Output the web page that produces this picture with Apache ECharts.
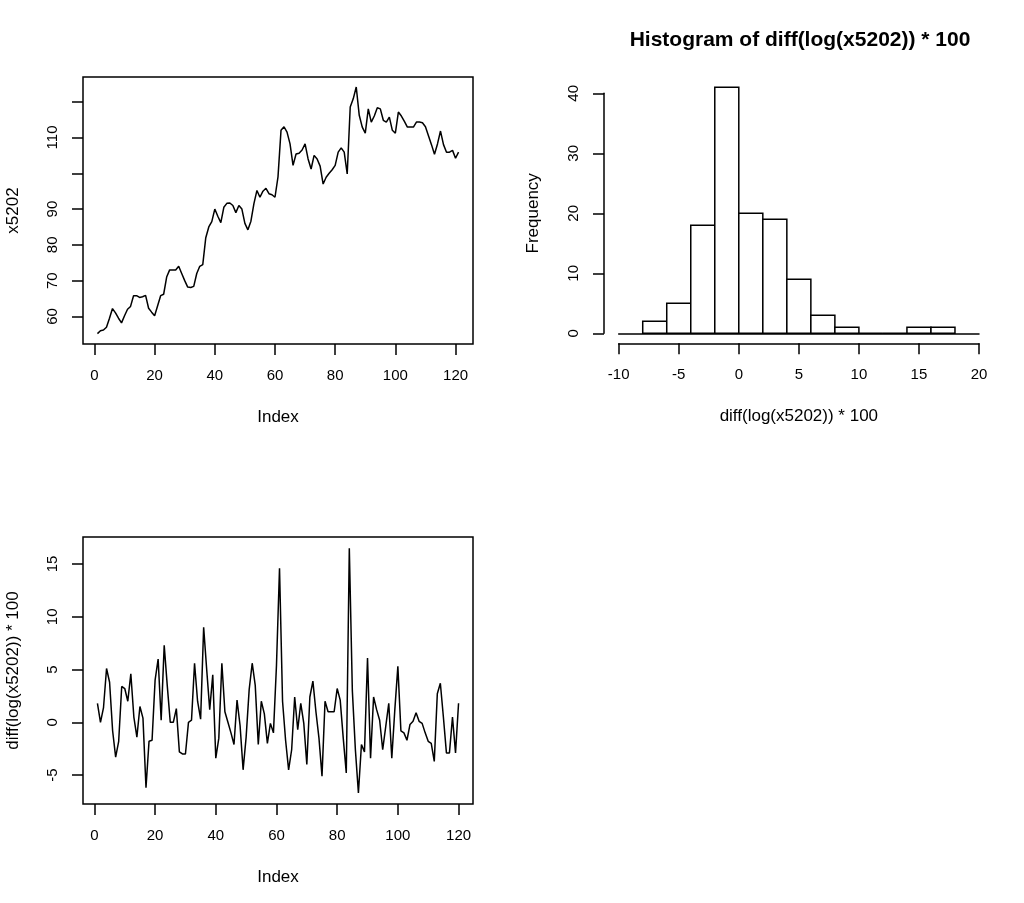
<!DOCTYPE html>
<html><head><meta charset="utf-8">
<script src="https://cdn.jsdelivr.net/npm/echarts@6/dist/echarts.min.js"></script>
<style>html,body{margin:0;padding:0;background:#fff}#c{width:1024px;height:903px}</style>
</head><body><div id="c"></div>
<script>
// ---- data ----
const x5202 = [55.2,56.0,56.2,57.0,59.5,62.2,61.0,59.5,58.2,60.2,
  62.0,62.8,65.8,65.8,65.3,65.5,65.9,62.3,61.2,60.2,
  63.0,65.8,66.2,71.0,73.0,73.0,73.0,74.0,72.0,70.0,
  68.2,68.1,68.4,72.0,74.0,74.5,82.0,85.0,86.5,90.0,
  88.0,86.2,90.5,91.6,91.7,91.0,89.0,91.0,90.0,86.0,
  84.2,86.6,91.5,95.2,93.3,95.0,95.8,94.3,94.0,93.3,
  99.0,112.0,113.0,111.5,108.2,102.2,105.4,105.6,106.5,108.2,
  104.0,101.2,105.0,104.0,102.0,97.0,98.9,100.0,101.0,102.2,
  105.9,107.1,105.9,99.8,118.5,120.8,124.1,116.2,112.9,111.2,
  118.0,114.3,116.0,118.3,118.0,114.8,114.3,115.7,112.0,111.2,
  117.1,116.0,114.5,112.9,112.9,112.9,114.3,114.3,114.1,113.0,
  110.5,108.0,105.3,108.2,111.8,108.0,105.9,105.9,106.4,104.2,
  105.9];
const diffLog100 = [1.8,0.0,1.4,5.1,3.8,-0.8,-3.3,-1.8,3.4,3.2,
  2.0,4.6,0.5,-1.4,1.5,0.4,-6.2,-1.8,-1.7,4.0,
  6.0,0.2,7.3,3.5,0.0,0.0,1.3,-2.8,-3.0,-3.0,
  0.0,0.2,5.6,2.0,0.3,9.0,5.0,1.2,4.5,-3.4,
  -1.5,5.6,1.0,0.0,-1.0,-2.1,2.1,-0.3,-4.5,-1.4,
  3.1,5.6,3.5,-2.1,2.0,0.8,-2.0,-0.1,-1.0,5.4,
  14.6,2.0,-1.7,-4.5,-2.6,2.4,-0.7,1.8,-0.1,-4.0,
  2.4,3.9,1.0,-1.5,-5.1,2.0,1.0,1.0,1.0,3.2,
  2.1,-1.5,-4.8,16.5,3.0,-2.6,-6.7,-2.1,-2.8,6.1,
  -3.4,2.4,1.2,0.2,-2.6,-0.4,1.8,-3.4,1.2,5.3,
  -0.8,-1.0,-1.7,-0.2,0.1,0.9,0.1,-0.1,-1.0,-1.8,
  -2.0,-3.7,2.7,3.7,0.5,-2.9,-2.9,0.5,-2.9,1.8];
const histBreaks = [-8,-6,-4,-2,0,2,4,6,8,10,12,14,16,18];
const histCounts = [2,5,18,41,20,19,9,3,1,0,0,1,1];
const indexTicks = [0,20,40,60,80,100,120];
const levelTicks = [60,70,80,90,100,110,120];
const levelLabels = [60,70,80,90,110];
const diffTicks = [-5,0,5,10,15];
const histXTicks = [-10,-5,0,5,10,15,20];
const histYTicks = [0,10,20,30,40];

// ---- styling ----
const FONT = 'Liberation Sans, Arial, sans-serif';
const FS = 15;      // tick labels
const FSN = 17;     // axis titles
const black = '#000';
const LW = 1.5;

function mkAxis(o){
  return {
    type:'value', gridIndex:o.grid, min:o.min, max:o.max,
    position:o.position, offset:o.offset||0,
    axisLine:{show:!!o.line, onZero:false, lineStyle:{color:black,width:LW}},
    axisTick:{show:true, inside:false, length:11, customValues:o.ticks, lineStyle:{color:black,width:LW}},
    axisLabel:{show:true, customValues:o.labels||o.ticks, color:black, fontSize:FS, fontFamily:FONT,
      margin:o.margin, rotate:o.rotate||0},
    splitLine:{show:false},
    name:o.name, nameLocation:'middle', nameGap:o.nameGap,
    nameTextStyle:{color:black, fontSize:FSN, fontFamily:FONT}
  };
}

const lineData1 = x5202.map((v,i)=>[i+1,v]);
const lineData3 = diffLog100.map((v,i)=>[i+1,v]);
const histData = histCounts.map((c,k)=>[histBreaks[k], histBreaks[k+1], c]);

const option = {
  animation:false,
  backgroundColor:'#fff',
  title:{text:'Histogram of diff(log(x5202)) * 100', left:795, top:25, textAlign:'center',
    textStyle:{fontFamily:FONT, fontSize:21, fontWeight:'bold', color:black}},
  grid:[
    {left:83, top:77, width:390, height:267, show:true, borderColor:black, borderWidth:LW, backgroundColor:'transparent', containLabel:false, outerBoundsMode:'none'},
    {left:618.7, top:93.3, width:360.3, height:240, show:false, containLabel:false, outerBoundsMode:'none'},
    {left:83, top:537, width:390, height:267, show:true, borderColor:black, borderWidth:LW, backgroundColor:'transparent', containLabel:false, outerBoundsMode:'none'}
  ],
  xAxis:[
    mkAxis({grid:0, min:-3.8, max:125.8, position:'bottom', ticks:indexTicks, margin:24, name:'Index', nameGap:65}),
    mkAxis({grid:1, min:-10, max:20, position:'bottom', offset:10, line:true, ticks:histXTicks, margin:24, name:'diff(log(x5202)) * 100', nameGap:65}),
    Object.assign(mkAxis({grid:1, min:-10, max:20, position:'bottom', offset:0, line:true, ticks:[]}),
      {axisTick:{show:false}, axisLabel:{show:false}, name:''}),
    mkAxis({grid:2, min:-3.76, max:124.76, position:'bottom', ticks:indexTicks, margin:24, name:'Index', nameGap:65})
  ],
  yAxis:[
    mkAxis({grid:0, min:52.3, max:126.9, position:'left', ticks:levelTicks, labels:levelLabels, margin:23, rotate:90, name:'x5202', nameGap:61}),
    mkAxis({grid:1, min:0, max:40, position:'left', offset:14.7, line:true, ticks:histYTicks, margin:23, rotate:90, name:'Frequency', nameGap:62}),
    mkAxis({grid:2, min:-7.74, max:17.56, position:'left', ticks:diffTicks, margin:23, rotate:90, name:'diff(log(x5202)) * 100', nameGap:61})
  ],
  series:[
    {type:'line', xAxisIndex:0, yAxisIndex:0, data:lineData1, symbol:'none', lineStyle:{color:black,width:LW}, silent:true},
    {type:'custom', xAxisIndex:1, yAxisIndex:1, data:histData, encode:{x:[0,1], y:2}, clip:false,
      renderItem:function(params, api){
        const p0 = api.coord([api.value(0), api.value(2)]);
        const p1 = api.coord([api.value(1), 0]);
        return {type:'rect', shape:{x:p0[0], y:p0[1], width:p1[0]-p0[0], height:p1[1]-p0[1]},
          style:{fill:'#fff', stroke:black, lineWidth:LW}};
      }},
    {type:'line', xAxisIndex:3, yAxisIndex:2, data:lineData3, symbol:'none', lineStyle:{color:black,width:LW}, silent:true}
  ]
};
echarts.init(document.getElementById('c'), null, {renderer:'canvas'}).setOption(option);
</script></body></html>
